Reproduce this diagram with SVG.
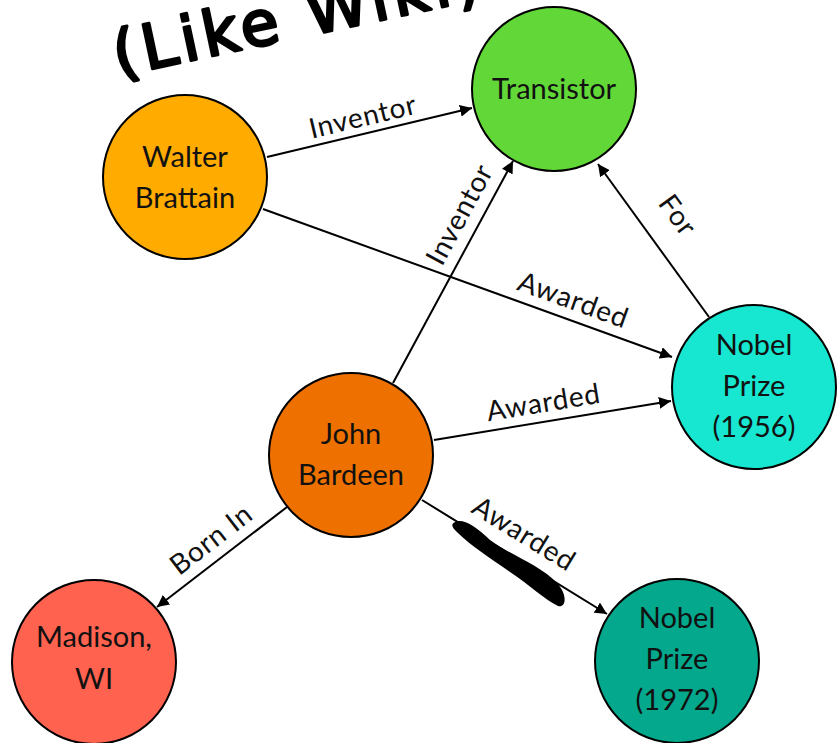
<svg xmlns="http://www.w3.org/2000/svg" width="838" height="743" viewBox="0 0 838 743">
<defs>
<marker id="arr" viewBox="0 0 10 10" refX="10" refY="5" markerWidth="12" markerHeight="12" markerUnits="userSpaceOnUse" orient="auto">
<path d="M0,0 L10,5 L0,10 z" fill="#000"/>
</marker>
<style>
.node{stroke:#000;stroke-width:2}
.nt{font-family:Lato,"Noto Sans","Liberation Sans",sans-serif;font-size:29px;fill:#111;text-anchor:middle}
.edge{stroke:#000;stroke-width:2;fill:none;marker-end:url(#arr)}
.el{font-family:Lato,"Noto Sans","Liberation Sans",sans-serif;font-size:28px;letter-spacing:0.8px;fill:#111;text-anchor:middle}
.hand{font-family:"DejaVu Sans",sans-serif;font-size:62px;letter-spacing:5px;fill:#000;stroke:#000;stroke-width:3;stroke-linejoin:round;stroke-linecap:round}
</style>
</defs>
<rect width="838" height="743" fill="#fff"/>
<text class="hand" transform="rotate(-12 118 76)" x="118" y="76">(Like Wiki)</text>
<g id="connectors">
<line class="edge" x1="267" y1="157" x2="472" y2="108"/>
<line class="edge" x1="263" y1="209" x2="672" y2="357"/>
<line class="edge" x1="393" y1="383" x2="513" y2="161"/>
<line class="edge" x1="709" y1="317" x2="598" y2="164"/>
<line class="edge" x1="434" y1="440" x2="671" y2="401"/>
<line class="edge" x1="287" y1="507" x2="157" y2="607"/>
<line class="edge" x1="422" y1="500" x2="607" y2="614"/>
<text class="el" transform="translate(365,126) rotate(-13.4)">Inventor</text>
<text class="el" transform="translate(570,309) rotate(19.9)">Awarded</text>
<text class="el" transform="translate(468,219) rotate(-61.6)">Inventor</text>
<text class="el" transform="translate(670,221) rotate(54)">For</text>
<text class="el" transform="translate(545,412) rotate(-9.3)">Awarded</text>
<text class="el" transform="translate(217,547) rotate(-37.6)">Born In</text>
<text class="el" transform="translate(519,542) rotate(31.6)">Awarded</text>
</g>
<path d="M455,522 C462,518 475,525 490,540 C510,555 540,565 557,583 C568,595 566,608 558,606 C545,600 530,585 510,572 C490,558 470,545 458,533 C451,527 451,524 455,522 z" fill="#000"/>
<g id="walter">
<circle class="node" cx="185" cy="177" r="82" fill="#FFAB00"/>
<text class="nt" x="185" y="167">Walter</text>
<text class="nt" x="185" y="208">Brattain</text>
</g>
<g id="transistor">
<circle class="node" cx="554" cy="89" r="82" fill="#62D838"/>
<text class="nt" x="554" y="99">Transistor</text>
</g>
<g id="nobel1956">
<circle class="node" cx="754" cy="387" r="82" fill="#17E6D0"/>
<text class="nt" x="754" y="355">Nobel</text>
<text class="nt" x="754" y="396">Prize</text>
<text class="nt" x="754" y="437">(1956)</text>
</g>
<g id="john">
<circle class="node" cx="351" cy="455" r="82" fill="#EE7100"/>
<text class="nt" x="351" y="444">John</text>
<text class="nt" x="351" y="485">Bardeen</text>
</g>
<g id="nobel1972">
<circle class="node" cx="677" cy="661" r="82" fill="#04A88D"/>
<text class="nt" x="677" y="628">Nobel</text>
<text class="nt" x="677" y="669">Prize</text>
<text class="nt" x="677" y="710">(1972)</text>
</g>
<g id="madison">
<circle class="node" cx="94" cy="662" r="82" fill="#FF624F"/>
<text class="nt" x="94" y="647">Madison,</text>
<text class="nt" x="94" y="689">WI</text>
</g>
</svg>
